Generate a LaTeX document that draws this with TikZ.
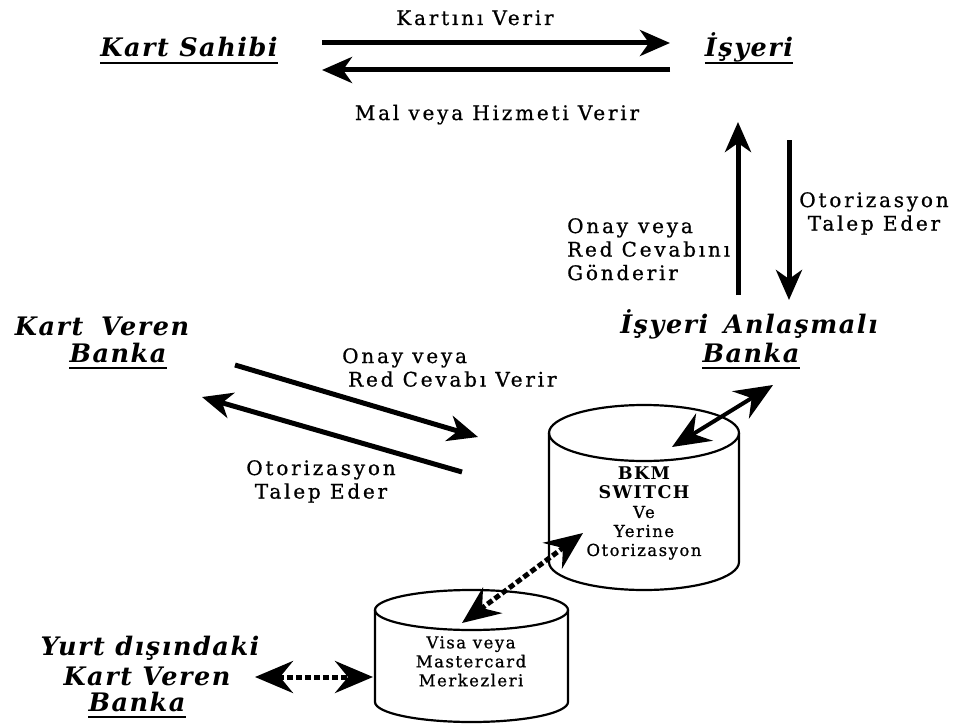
\documentclass[tikz,border=0pt]{standalone}
\usepackage{fontspec}
\setmainfont{DejaVu Serif}
\newfontfamily\widefont[LetterSpace=14,FakeBold=0.8]{DejaVu Serif}
\newfontfamily\dbfont[LetterSpace=9,FakeBold=0.8]{DejaVu Serif}
\newfontfamily\dbboldfont[LetterSpace=8]{DejaVu Serif}
\newfontfamily\headfont[LetterSpace=6]{DejaVu Serif}
\newcommand\dbtitle[1]{{\dbboldfont\bfseries\fontsize{17.5}{19}\selectfont #1}}
\usetikzlibrary{arrows.meta}

\begin{document}
\begin{tikzpicture}[x=1pt,y=-1pt,
  head/.style={font=\headfont\bfseries\itshape\fontsize{25.5}{28}\selectfont, inner sep=0pt},
  lbl/.style={font=\widefont\fontsize{20}{23.5}\selectfont, inner sep=0pt},
  dbtext/.style={font=\dbfont\fontsize{16.5}{19}\selectfont, inner sep=0pt, align=center},
  flow/.style={line width=5pt, -{Stealth[length=30pt,width=26pt,inset=9pt]}},
  link/.style={line width=4pt, {Stealth[length=38pt,width=32pt,inset=13pt]}-{Stealth[length=38pt,width=32pt,inset=13pt]}},
  dotlink/.style={link, line width=5pt, dash pattern=on 6pt off 3pt},
  uline/.style={line width=2.2pt},
  db/.style={line width=2.2pt}
]
\useasboundingbox[fill=white] (0,0) rectangle (953,725);

% --- parties -------------------------------------------------------
\node[head, anchor=base] (ks)   at (189,57)  {Kart Sahibi};
\node[head, anchor=base] (isy)  at (749,57)  {İşyeri};
\node[head, anchor=base] (kvb1) at (102,335) {Kart\hspace{0.7em}Veren};
\node[head, anchor=base] (kvb2) at (118,362) {Banka};
\node[head, anchor=base] (iab1) at (749,333) {İşyeri\hspace{0.6em}Anlaşmalı};
\node[head, anchor=base] (iab2) at (751,362) {Banka};
\node[head, anchor=base] (yd1)  at (150,655) {Yurt dışındaki};
\node[head, anchor=base] (yd2)  at (147,685) {Kart Veren};
\node[head, anchor=base] (yd3)  at (137,711) {Banka};

\foreach \n in {ks,isy,kvb2,iab2,yd3}
  \draw[uline] ([yshift=-6pt]\n.base west) -- ([yshift=-6pt]\n.base east);

% --- databases -----------------------------------------------------
\draw[db] (644,433) ellipse [x radius=95, y radius=28];
\draw[db] (549,433) -- (549,562) arc[start angle=180, end angle=0, x radius=95, y radius=28] -- (739,433);
\node[dbtext, anchor=north] (bkm) at (644,467)
  {\dbtitle{BKM}\\\dbtitle{SWITCH}\\Ve\\Yerine\\Otorizasyon};

\draw[db] (471.5,610) ellipse [x radius=96.5, y radius=20];
\draw[db] (375,610) -- (375,702) arc[start angle=180, end angle=0, x radius=96.5, y radius=20] -- (568,610);
\node[dbtext, anchor=north] (visa) at (471,636)
  {Visa veya\\Mastercard\\Merkezleri};

% --- message labels ------------------------------------------------
\node[lbl, anchor=base] (kv) at (475,25)  {Kartını Verir};
\node[lbl, anchor=base] (mh) at (497,120) {Mal veya Hizmeti Verir};
\node[lbl, anchor=north west, align=left] (onayA) at (567,218)
  {Onay\hspace{0.5em}veya\\Red Cevabını\\Gönderir};
\node[lbl, anchor=north, align=center] (otoA) at (874,192)
  {Otorizasyon\\Talep Eder};
\node[lbl, anchor=north west, align=left] (onayB) at (342,348)
  {Onay veya\\\hspace{0.3em}Red Cevabı Verir};
\node[lbl, anchor=north, align=center] (otoB) at (321,460)
  {Otorizasyon\\Talep Eder};

% --- connector end points ------------------------------------------
\coordinate (kvS) at (322,43);  \coordinate (kvE) at (670,43);
\coordinate (mhS) at (670,70);  \coordinate (mhE) at (322,70);
\coordinate (upS) at (738,295); \coordinate (upE) at (738,122);
\coordinate (dnS) at (789,140); \coordinate (dnE) at (789,300);
\coordinate (onS) at (235,365); \coordinate (onE) at (478,437);
\coordinate (otS) at (462,472); \coordinate (otE) at (202,397);
\coordinate (bkmTop) at (672,447);  \coordinate (bankLow) at (773,385);
\coordinate (bkmSide) at (583,533); \coordinate (visaTop) at (462,623);
\coordinate (abroad) at (255,677);  \coordinate (visaSide) at (373,677);

% --- connectors ----------------------------------------------------
\draw[flow] (kvS) -- (kvE);
\draw[flow] (mhS) -- (mhE);
\draw[flow] (upS) -- (upE);
\draw[flow] (dnS) -- (dnE);
\draw[flow] (onS) -- (onE);
\draw[flow] (otS) -- (otE);
\draw[link] (bkmTop) -- (bankLow);
\draw[dotlink] (bkmSide) -- (visaTop);
\draw[dotlink] (abroad) -- (visaSide);
\end{tikzpicture}
\end{document}
